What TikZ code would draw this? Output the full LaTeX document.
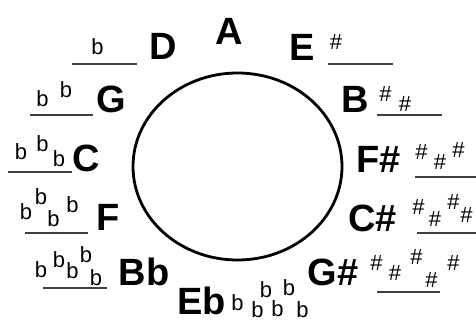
\documentclass[tikz,border=0pt]{standalone}
\usepackage{fontspec}
\setmainfont{Liberation Sans}
\begin{document}
\begin{tikzpicture}[x=1pt,y=-1pt,
key/.style={font=\bfseries\fontsize{38}{38}\selectfont,inner sep=0,anchor=base},
acc/.style={font=\fontsize{22}{22}\selectfont,inner sep=0,anchor=base},
uline/.style={line width=1.6pt,black!75}]
\useasboundingbox (0,0) rectangle (476,320);
\draw[line width=2.8pt] (237.5,166.5) ellipse [x radius=104.5pt,y radius=93.5pt];
\node[key] (kA) at (229,45) {A};
\node[key] (kD) at (163.5,60) {D};
\node[key] (kE) at (302.5,61) {E};
\node[key] (kG) at (111,113) {G};
\node[key] (kB) at (355,113) {B};
\node[key] (kC) at (86,172) {C};
\node[key] (kFs) at (378.5,173) {F\#};
\node[key] (kF) at (108,231) {F};
\node[key] (kCs) at (372.5,232) {C\#};
\node[key] (kBb) at (144,285) {Bb};
\node[key] (kGs) at (333,285) {G\#};
\node[key] (kEb) at (201.5,314) {Eb};
% flats
\node[acc] (fD1) at (97.5,55) {b};
\node[acc] (fG1) at (42.5,107) {b};
\node[acc] (fG2) at (66,98) {b};
\node[acc] (fC1) at (21,160) {b};
\node[acc] (fC2) at (42.5,152) {b};
\node[acc] (fC3) at (59,167) {b};
\node[acc] (fF1) at (26,220) {b};
\node[acc] (fF2) at (41,205) {b};
\node[acc] (fF3) at (53.5,227) {b};
\node[acc] (fF4) at (72.5,213) {b};
\node[acc] (fBb1) at (41,277) {b};
\node[acc] (fBb2) at (59,267) {b};
\node[acc] (fBb3) at (72.5,278) {b};
\node[acc] (fBb4) at (86,262) {b};
\node[acc] (fBb5) at (96,285) {b};
\node[acc] (fEb1) at (237.5,310) {b};
\node[acc] (fEb2) at (257.5,317) {b};
\node[acc] (fEb3) at (266,297) {b};
\node[acc] (fEb4) at (277.5,316) {b};
\node[acc] (fEb5) at (289,295) {b};
\node[acc] (fEb6) at (302.5,317) {b};
% sharps
\node[acc] (sE1) at (336,50) {\#};
\node[acc] (sB1) at (385.5,102) {\#};
\node[acc] (sB2) at (405,112) {\#};
\node[acc] (sFs1) at (421.5,160) {\#};
\node[acc] (sFs2) at (440,170) {\#};
\node[acc] (sFs3) at (458.5,158) {\#};
\node[acc] (sCs1) at (418.5,215) {\#};
\node[acc] (sCs2) at (435,227) {\#};
\node[acc] (sCs3) at (453.5,210) {\#};
\node[acc] (sCs4) at (466.5,223) {\#};
\node[acc] (sGs1) at (376.5,270) {\#};
\node[acc] (sGs2) at (395,280) {\#};
\node[acc] (sGs3) at (416.5,265) {\#};
\node[acc] (sGs4) at (431.5,287) {\#};
\node[acc] (sGs5) at (453.5,270) {\#};
% underlines
\draw[uline] (72,64) -- (137,64);
\draw[uline] (30,115) -- (93,115);
\draw[uline] (8,172) -- (72,172);
\draw[uline] (25,233) -- (88,233);
\draw[uline] (43,288) -- (107,288);
\draw[uline] (328,64) -- (393,64);
\draw[uline] (377,115) -- (442,115);
\draw[uline] (415,177) -- (476,177);
\draw[uline] (417,233) -- (476,233);
\draw[uline] (377,292) -- (440,292);
\end{tikzpicture}
\end{document}
